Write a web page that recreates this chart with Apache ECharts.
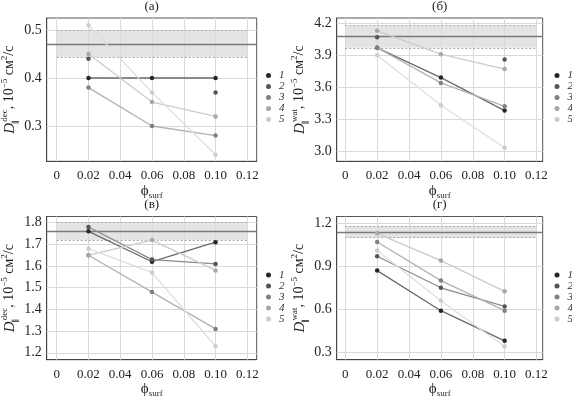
<!DOCTYPE html>
<html>
<head>
<meta charset="utf-8">
<script src="https://cdn.jsdelivr.net/npm/echarts@6/dist/echarts.min.js"></script>
<style>
  html, body { margin: 0; padding: 0; background: #fff; }
  #main { width: 572px; height: 396px; }
</style>
</head>
<body>
<div id="main"></div>
<script>
  // x positions (phi_surf) and legend names
  const xValues = [0.02, 0.06, 0.10];
  const xTicks = [0, 0.02, 0.04, 0.06, 0.08, 0.10, 0.12];
  const seriesNames = ['1', '2', '3', '4', '5'];

  // rows = series 1..5, columns = xValues (null = no point)
  const valuesA = [
    [0.40, 0.40, 0.40],
    [0.44, null, 0.37],
    [0.38, 0.30, 0.28],
    [0.45, 0.35, 0.32],
    [0.51, 0.37, 0.24]
  ];
  const valuesB = [
    [3.97, 3.69, 3.38],
    [4.07, null, 3.86],
    [3.97, 3.64, 3.42],
    [4.13, 3.91, 3.77],
    [3.90, 3.43, 3.03]
  ];
  const valuesV = [
    [1.76, 1.62, 1.71],
    [1.78, 1.63, 1.61],
    [1.65, 1.48, 1.31],
    [1.65, 1.72, 1.58],
    [1.68, 1.57, 1.23]
  ];
  const valuesG = [
    [0.87, 0.59, 0.38],
    [0.97, 0.75, 0.62],
    [1.07, 0.80, 0.59],
    [1.13, 0.94, 0.725],
    [1.01, 0.66, 0.34]
  ];

  // reference band: [low, mean, high]
  const bandA = [0.444, 0.472, 0.50];
  const bandB = [3.97, 4.075, 4.18];
  const bandV = [1.72, 1.758, 1.80];
  const bandG = [1.10, 1.14, 1.182];
  const bandX = [0, 0.12];

  // y tick labels
  const yTicksA = [0.3, 0.4, 0.5];
  const yTicksB = [3.0, 3.3, 3.6, 3.9, 4.2];
  const yTicksV = [1.2, 1.3, 1.4, 1.5, 1.6, 1.7, 1.8];
  const yTicksG = [0.3, 0.6, 0.9, 1.2];

  const markerColors = ['#262626', '#555555', '#808080', '#a8a8a8', '#cdcdcd'];
  const lineColors = ['#6a6a6a', '#8a8a8a', '#b2b2b2', '#cbcbcb', '#dedede'];
  const gridLineColor = '#d9d9d9';
  const serif = '"Liberation Serif", "DejaVu Serif", serif';

  const panels = [
    { title: '(а)', kind: 'dec', values: valuesA, band: bandA, yTicks: yTicksA,
      yMin: 0.2265, yMax: 0.525, xMin: -0.0063, xMax: 0.1259,
      grid: { left: 46.7, top: 18, width: 210, height: 143.3 }, legend: { left: 266, top: 70 }, titleY: 7 },
    { title: '(б)', kind: 'wat', values: valuesB, band: bandB, yTicks: yTicksB,
      yMin: 2.903, yMax: 4.25, xMin: -0.0054, xMax: 0.1239,
      grid: { left: 336.7, top: 18, width: 206, height: 143.3 }, legend: { left: 554.5, top: 70 }, titleY: 7 },
    { title: '(в)', kind: 'dec', values: valuesV, band: bandV, yTicks: yTicksV,
      yMin: 1.168, yMax: 1.8286, xMin: -0.0063, xMax: 0.1259,
      grid: { left: 46.7, top: 216.5, width: 210, height: 143.2 }, legend: { left: 266, top: 269.5 }, titleY: 205 },
    { title: '(г)', kind: 'wat', values: valuesG, band: bandG, yTicks: yTicksG,
      yMin: 0.248, yMax: 1.2475, xMin: -0.0054, xMax: 0.1239,
      grid: { left: 336.7, top: 216.5, width: 206, height: 143.2 }, legend: { left: 554.5, top: 269.5 }, titleY: 205 }
  ];

  const nameRich = {
    d: { fontFamily: serif, fontStyle: 'italic', fontSize: 15, lineHeight: 20, color: '#222' },
    t: { fontFamily: serif, fontSize: 14, lineHeight: 20, color: '#222' },
    sup: { fontFamily: serif, fontSize: 9, lineHeight: 11, verticalAlign: 'top', color: '#222' },
    sub: { fontFamily: serif, fontSize: 9, lineHeight: 10, verticalAlign: 'bottom', color: '#222' },
    par: { fontFamily: serif, fontSize: 8, lineHeight: 10, verticalAlign: 'bottom', color: '#222', width: 1 },
    p: { fontFamily: serif, fontSize: 15, lineHeight: 18, color: '#222' }
  };

  const grid = [], xAxis = [], yAxis = [], series = [], legend = [], graphic = [];

  panels.forEach((p, i) => {
    grid.push(Object.assign({
      show: true, borderColor: '#555', borderWidth: 1, backgroundColor: 'transparent',
      containLabel: false, outerBoundsMode: 'none'
    }, p.grid));

    xAxis.push({
      type: 'value', gridIndex: i, min: p.xMin, max: p.xMax,
      name: '{p|ϕ}{sub|surf}', nameLocation: 'middle', nameGap: 17,
      nameTextStyle: { rich: nameRich },
      axisLine: { onZero: false, lineStyle: { color: '#444' } },
      axisTick: { inside: true, length: 4, customValues: xTicks, lineStyle: { color: '#444' } },
      axisLabel: {
        customValues: xTicks, margin: 8, fontFamily: serif, fontSize: 13, color: '#222',
        formatter: v => (v === 0 ? '0' : v.toFixed(2))
      },
      splitLine: { show: false }
    });

    yAxis.push({
      type: 'value', gridIndex: i, min: p.yMin, max: p.yMax,
      name: '{d|D}{par|∥}{sup|' + p.kind + '}{t|, 10}{sup|−5}{t| см}{sup|2}{t|/с}',
      nameLocation: 'middle', nameRotate: 90, nameGap: 27,
      nameTextStyle: { rich: nameRich },
      axisLine: { onZero: false, lineStyle: { color: '#444' } },
      axisTick: { inside: true, length: 4, customValues: p.yTicks, lineStyle: { color: '#444' } },
      axisLabel: {
        customValues: p.yTicks, margin: 5, fontFamily: serif, fontSize: 14, color: '#222',
        formatter: v => v.toFixed(1)
      },
      splitLine: { show: false }
    });

    // faint grid lines at the tick values
    const gridLines = [];
    xTicks.forEach(v => gridLines.push({ xAxis: v }));
    p.yTicks.forEach(v => gridLines.push({ yAxis: v }));
    series.push({
      name: 'grid' + i, type: 'line', xAxisIndex: i, yAxisIndex: i,
      data: [], silent: true, z: 1,
      markLine: {
        silent: true, symbol: 'none', label: { show: false }, z: 1,
        lineStyle: { color: gridLineColor, type: 'solid', width: 1 },
        data: gridLines
      }
    });

    // band + mean line
    const [lo, mean, hi] = p.band;
    series.push({
      name: 'band' + i, type: 'line', xAxisIndex: i, yAxisIndex: i,
      data: [], silent: true, z: 1,
      markArea: {
        silent: true, z: 1,
        itemStyle: { color: '#e4e4e4' },
        data: [[{ coord: [bandX[0], lo] }, { coord: [bandX[1], hi] }]]
      },
      markLine: {
        silent: true, symbol: 'none', label: { show: false }, z: 2,
        data: [
          [{ coord: [bandX[0], lo], lineStyle: { color: '#a8a8a8', type: [2, 2], width: 1 } },
           { coord: [bandX[1], lo] }],
          [{ coord: [bandX[0], hi], lineStyle: { color: '#a8a8a8', type: [2, 2], width: 1 } },
           { coord: [bandX[1], hi] }],
          { yAxis: mean, lineStyle: { color: '#7a7a7a', type: 'solid', width: 1.4 } }
        ]
      }
    });

    p.values.forEach((row, k) => {
      series.push({
        name: seriesNames[k], type: 'line', xAxisIndex: i, yAxisIndex: i, z: 3 + k,
        data: xValues.map((x, j) => [x, row[j]]),
        symbol: 'circle', symbolSize: 4.5, showSymbol: true,
        itemStyle: { color: markerColors[k] },
        lineStyle: { color: lineColors[k], width: 1.3 }
      });
    });

    legend.push({
      data: seriesNames, orient: 'vertical', left: p.legend.left, top: p.legend.top,
      icon: 'circle', itemWidth: 5, itemHeight: 5, itemGap: 0, padding: 0,
      textStyle: { fontFamily: serif, fontStyle: 'italic', fontSize: 11, color: '#333', lineHeight: 9, padding: [0, 0, 0, 3] }
    });

    graphic.push({
      type: 'text', x: p.grid.left + p.grid.width / 2, y: p.titleY,
      style: { text: p.title, align: 'center', verticalAlign: 'middle', font: '13px ' + serif, fill: '#222' }
    });
  });

  const myChart = echarts.init(document.getElementById('main'));
  myChart.setOption({
    animation: false,
    backgroundColor: '#fff',
    grid, xAxis, yAxis, series, legend, graphic
  });
</script>
</body>
</html>
